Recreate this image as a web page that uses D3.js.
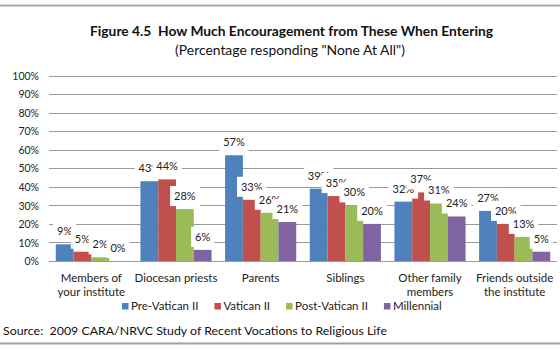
<!DOCTYPE html>
<html>
<head>
<meta charset="utf-8">
<script src="https://cdn.jsdelivr.net/npm/d3@7"></script>
<style>
  html, body { margin: 0; padding: 0; background: #fff; }
  svg { display: block; font-family: Lato, "Open Sans", sans-serif; }
  svg text { white-space: pre; }
</style>
</head>
<body>
<svg id="chart" width="560" height="350"></svg>
<script>
// ---- data ----
const categories = [
  ["Members of", "your institute"],
  ["Diocesan priests"],
  ["Parents"],
  ["Siblings"],
  ["Other family", "members"],
  ["Friends outside", "the institute"]
];
const seriesNames = ["Pre-Vatican II", "Vatican II", "Post-Vatican II", "Millennial"];
const preVatican  = [9, 43, 57, 39, 32, 27];
const vatican     = [5, 44, 33, 35, 37, 20];
const postVatican = [2, 28, 26, 30, 31, 13];
const millennial  = [0, 6, 21, 20, 24, 5];
const yTicks = [0, 10, 20, 30, 40, 50, 60, 70, 80, 90, 100];
const titleText = "Figure 4.5  How Much Encouragement from These When Entering";
const subtitleText = "(Percentage responding \"None At All\")";
const sourceText = "Source:  2009 CARA/NRVC Study of Recent Vocations to Religious Life";

const seriesValues = [preVatican, vatican, postVatican, millennial];
const colors = ["#4F81BD", "#C0504D", "#9BBB59", "#8064A2"];

const svg = d3.select("#chart");

function fitText(sel, target) {
  const len = sel.node().getComputedTextLength();
  const fs = parseFloat(sel.attr("font-size"));
  sel.attr("font-size", (fs * target / len).toFixed(2));
}

// frame lines
svg.append("line").attr("x1", 0).attr("x2", 560).attr("y1", 5.5).attr("y2", 5.5)
  .attr("stroke", "#a8a8a8").attr("stroke-width", 2);
svg.append("line").attr("x1", 0).attr("x2", 560).attr("y1", 343.5).attr("y2", 343.5)
  .attr("stroke", "#a0a0a0").attr("stroke-width", 2);

// titles
const t1 = svg.append("text").attr("x", 291.5).attr("y", 36).attr("text-anchor", "middle")
  .attr("font-weight", "bold").attr("font-size", 14).attr("fill", "#111").text(titleText);
fitText(t1, 403);
const t2 = svg.append("text").attr("x", 290).attr("y", 55).attr("text-anchor", "middle")
  .attr("font-size", 14).attr("fill", "#111").text(subtitleText);
fitText(t2, 230);

// scales
const x0 = d3.scaleBand().domain(d3.range(categories.length)).range([49, 557])
  .paddingInner(0.16).paddingOuter(0.08);
const x1 = d3.scaleBand().domain(d3.range(seriesNames.length)).range([0, x0.bandwidth()]);
const y = d3.scaleLinear().domain([0, 100]).range([261, 75.5]);

// gridlines
svg.append("g").selectAll("line").data(yTicks).join("line")
  .attr("x1", 49).attr("x2", 557)
  .attr("y1", d => Math.round(y(d)) + 0.5).attr("y2", d => Math.round(y(d)) + 0.5)
  .attr("stroke", "#9a9a9a").attr("stroke-width", 1);

// y axis labels
const yAxis = d3.axisLeft(y).tickValues(yTicks).tickFormat(d => d + "%").tickSize(0).tickPadding(0);
const yg = svg.append("g").attr("transform", "translate(39,0)").call(yAxis);
yg.select(".domain").remove();
yg.selectAll("text").attr("font-family", "Lato, sans-serif").attr("font-size", 10.5)
  .attr("fill", "#222").attr("dy", "0.35em");

// bars
const groups = svg.append("g").selectAll("g").data(seriesValues).join("g")
  .attr("fill", (d, i) => colors[i]);
groups.each(function (vals, si) {
  d3.select(this).selectAll("rect").data(vals).join("rect")
    .attr("x", (d, ci) => x0(ci) + x1(si))
    .attr("width", x1.bandwidth())
    .attr("y", d => y(d))
    .attr("height", d => y(0) - y(d));
});

// data labels (white boxes, series drawn in order)
const lab = svg.append("g");
seriesValues.forEach((vals, si) => {
  vals.forEach((v, ci) => {
    const cx = x0(ci) + x1(si) + x1.bandwidth() / 2;
    const top = y(v);
    const g = lab.append("g");
    const rect = g.append("rect").attr("fill", "#fff");
    const txt = g.append("text").attr("x", cx).attr("y", top - 9)
      .attr("text-anchor", "middle").attr("font-size", 11).attr("fill", "#222").text(v + "%");
    const w = txt.node().getComputedTextLength() + 8;
    rect.attr("x", cx - w / 2).attr("width", w).attr("y", top - 23).attr("height", 20);
  });
});

// x labels
const xl = svg.append("g");
categories.forEach((lines, ci) => {
  const cx = x0(ci) + x0.bandwidth() / 2;
  lines.forEach((ln, li) => {
    xl.append("text").attr("x", cx).attr("y", 282 + li * 13.5).attr("text-anchor", "middle")
      .attr("font-size", 11.5).attr("fill", "#222").text(ln);
  });
});

// legend
const leg = svg.append("g");
let lx = 122;
seriesNames.forEach((name, i) => {
  leg.append("rect").attr("x", lx).attr("y", 303).attr("width", 6.5).attr("height", 6.5).attr("fill", colors[i]);
  const t = leg.append("text").attr("x", lx + 9).attr("y", 310).attr("font-size", 11.5)
    .attr("fill", "#222").text(name);
  lx += 9 + t.node().getComputedTextLength() + 16;
});

// source
const s = svg.append("text").attr("x", 3).attr("y", 334.5).attr("font-size", 14)
  .attr("fill", "#111").text(sourceText);
fitText(s, 384);
</script>
</body>
</html>
